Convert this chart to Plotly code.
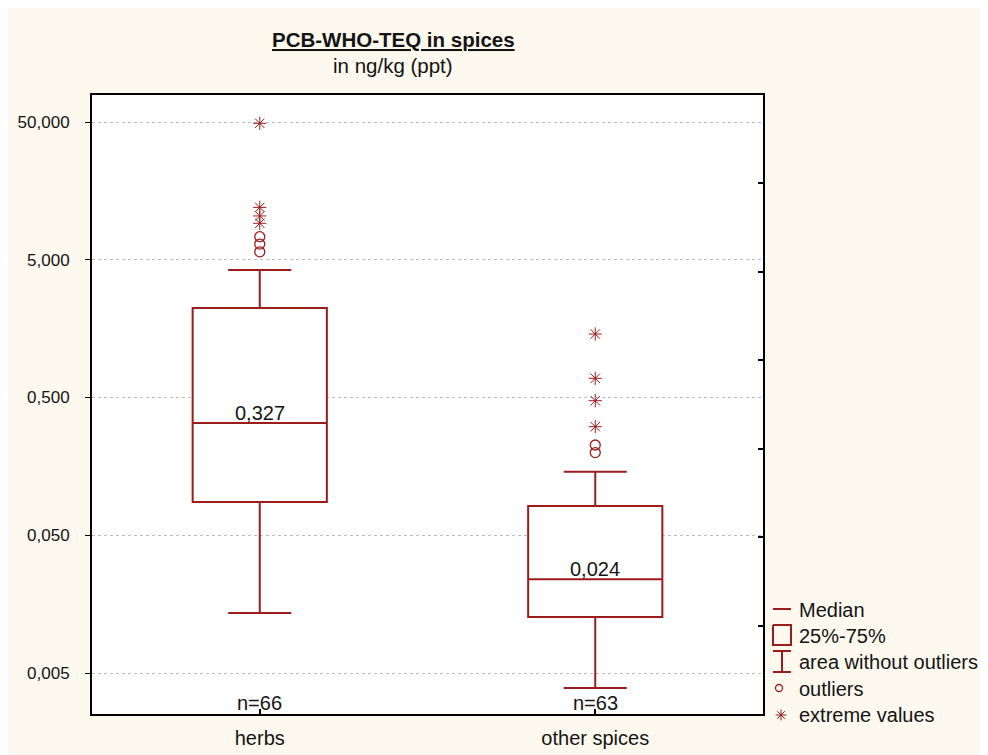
import plotly.graph_objects as go
import math

# ---- data ----
categories = ["herbs", "other spices"]
q1_vals = [0.0872, 0.01276]
median_vals = [0.327, 0.024]
q3_vals = [2.23, 0.0815]
lower_whisker = [0.01363, 0.00389]
upper_whisker = [4.21, 0.1446]
n_counts = [66, 63]
outliers_herbs = [7.35, 6.5, 5.71]
extremes_herbs = [48.9, 12.0, 10.4, 9.2]
outliers_other = [0.226, 0.199]
extremes_other = [1.445, 0.689, 0.474, 0.307]
y_tickvals = [0.005, 0.05, 0.5, 5, 50]
y_ticktext = ["0,005", "0,050", "0,500", "5,000", "50,000"]
legend_labels = ["Median", "25%-75%", "area without outliers", "outliers", "extreme values"]

RED = "#9b1c1c"
BG = "#fdf9ee"
TXT = "#141414"
FONT = "Liberation Sans, Arial, sans-serif"

OFF = 8  # page offset of the figure on screen


def sx(p):
    return p - OFF


W, H = 988, 755
ML, MR, MT, MB = sx(92), 0, sx(95), 20
PW = W - ML - MR  # paper width
PH = H - MT - MB  # paper height
plot_right = sx(763)
plot_bottom = sx(714)


def ppx(p):  # screen x -> paper fraction
    return (sx(p) - ML) / PW


def ppy(p):  # screen y -> paper fraction
    return (H - MB - sx(p)) / PH


fig = go.Figure()

fig.add_trace(go.Box(
    x=categories, q1=q1_vals, median=median_vals, q3=q3_vals,
    lowerfence=lower_whisker, upperfence=upper_whisker,
    boxpoints=False, width=0.4, whiskerwidth=0.47,
    line=dict(color=RED, width=2), fillcolor="white",
    showlegend=False, hoverinfo="skip",
))

for cat, vals in [(categories[0], outliers_herbs), (categories[1], outliers_other)]:
    fig.add_trace(go.Scatter(
        x=[cat] * len(vals), y=vals, mode="markers",
        marker=dict(symbol="circle-open", size=10, color=RED, line=dict(width=1.3, color=RED)),
        showlegend=False, hoverinfo="skip"))
for cat, vals in [(categories[0], extremes_herbs), (categories[1], extremes_other)]:
    fig.add_trace(go.Scatter(
        x=[cat] * len(vals), y=vals, mode="markers",
        marker=dict(symbol="asterisk-open", size=11, color=RED, line=dict(width=1, color=RED)),
        showlegend=False, hoverinfo="skip"))

# dummy trace for right-side tick axis
fig.add_trace(go.Scatter(x=[categories[0]], y=[None], yaxis="y2", mode="markers",
                         showlegend=False, hoverinfo="skip"))

# median labels and n labels
for cat, m, n in zip(categories, median_vals, n_counts):
    fig.add_annotation(x=cat, y=math.log10(m), xref="x", yref="y",
                       text=f"{m:.3f}".replace(".", ","), showarrow=False,
                       yanchor="bottom", yshift=-3,
                       font=dict(size=20, color=TXT, family=FONT))
    fig.add_annotation(x=cat, y=0, xref="x", yref="y domain",
                       text=f"n={n}", showarrow=False, yanchor="bottom", yshift=-2,
                       font=dict(size=20, color=TXT, family=FONT))

# title
fig.add_annotation(x=ppx(393), y=ppy(40), xref="paper", yref="paper",
                   text="<b><u>PCB-WHO-TEQ in spices</u></b>", showarrow=False,
                   xanchor="center", yanchor="middle",
                   font=dict(size=20.5, color=TXT, family=FONT))
fig.add_annotation(x=ppx(393), y=ppy(66), xref="paper", yref="paper",
                   text="in ng/kg (ppt)", showarrow=False,
                   xanchor="center", yanchor="middle",
                   font=dict(size=20.5, color=TXT, family=FONT))

# white plotting area (plot_bgcolor is shared by the helper legend axes)
fig.add_shape(type="rect", xref="x domain", yref="y domain", x0=0, x1=1, y0=0, y1=1,
              fillcolor="white", line=dict(width=0), layer="below")

# ---- custom legend (screen-pixel helper axes) ----
lx = dict(xaxis="x3", yaxis="y3", showlegend=False, hoverinfo="skip")
fig.add_trace(go.Scatter(x=[773, 791], y=[609, 609], mode="lines",
                         line=dict(color=RED, width=2), **lx))
fig.add_trace(go.Scatter(x=[773, 791, 791, 773, 773], y=[625, 625, 645, 645, 625], mode="lines",
                         line=dict(color=RED, width=2), **lx))
fig.add_trace(go.Scatter(x=[773, 791, None, 782, 782, None, 773, 791],
                         y=[651, 651, None, 651, 672, None, 672, 672], mode="lines",
                         line=dict(color=RED, width=2), **lx))
fig.add_trace(go.Scatter(x=[779], y=[688], mode="markers",
                         marker=dict(symbol="circle-open", size=7, color=RED, line=dict(width=1.3, color=RED)), **lx))
fig.add_trace(go.Scatter(x=[781], y=[715], mode="markers",
                         marker=dict(symbol="asterisk-open", size=9, color=RED, line=dict(width=1, color=RED)), **lx))
for lab, yy in zip(legend_labels, [610, 636, 662, 689, 715]):
    fig.add_annotation(x=797, y=yy, xref="x3", yref="y3", text=lab, showarrow=False,
                       xanchor="left", yanchor="middle",
                       font=dict(size=20, color=TXT, family=FONT))

ytop = 1.699 + (122 - 95) / 137.75
ybot = -2.301 - (714 - 673) / 137.75

fig.update_layout(
    width=W, height=H,
    margin=dict(l=ML, r=MR, t=MT, b=MB),
    paper_bgcolor=BG, plot_bgcolor=BG,
    font=dict(family=FONT, color=TXT),
    xaxis=dict(domain=[0, (plot_right - ML) / PW], type="category",
               range=[-0.5, 1.5], showline=True, mirror=True, linecolor="black", linewidth=2,
               ticks="inside", ticklen=5, tickcolor="black", tickwidth=1.5,
               ticklabelstandoff=5,
               showgrid=False, tickfont=dict(size=20, color=TXT, family=FONT), zeroline=False),
    yaxis=dict(domain=[(H - MB - plot_bottom) / PH, 1], type="log",
               range=[ybot, ytop], showline=True, mirror=True, linecolor="black", linewidth=2,
               tickvals=y_tickvals, ticktext=y_ticktext,
               ticks="outside", ticklen=5, tickcolor="black", tickwidth=1,
               ticklabelstandoff=12,
               showgrid=True, gridcolor="#bdbdbd", griddash="dot", gridwidth=1,
               tickfont=dict(size=17, color=TXT, family=FONT), zeroline=False),
    yaxis2=dict(overlaying="y", side="right", anchor="x", range=[0, 7],
                tickvals=[1, 2, 3, 4, 5, 6], ticks="inside", ticklen=5,
                tickcolor="black", tickwidth=2, showticklabels=False,
                showgrid=False, zeroline=False, showline=False),
    xaxis3=dict(domain=[ppx(772), 1], range=[772, 988 + OFF], visible=False, anchor="y3"),
    yaxis3=dict(domain=[0, 1], range=[H - MB + OFF, MT + OFF], visible=False, anchor="x3"),
)

fig.write_html("out.html")
